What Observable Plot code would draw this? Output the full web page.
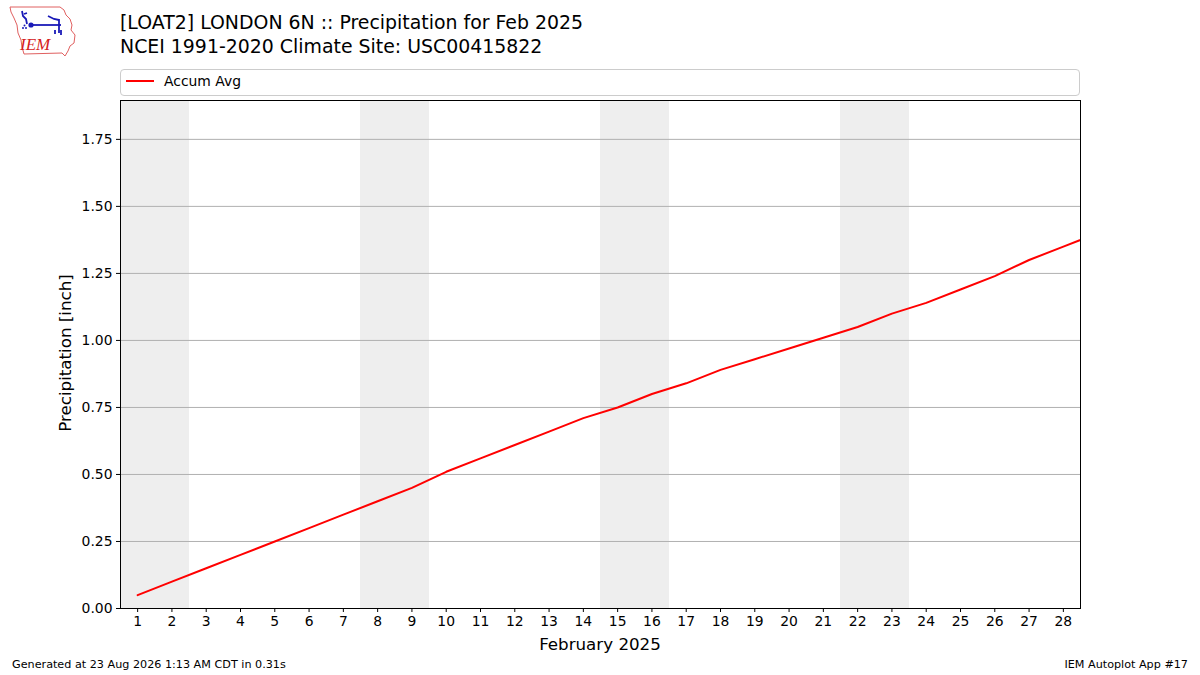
<!DOCTYPE html>
<html>
<head>
<meta charset="utf-8">
<script src="https://cdn.jsdelivr.net/npm/d3@7"></script>
<script src="https://cdn.jsdelivr.net/npm/@observablehq/plot@0.6"></script>
<style>
  html, body { margin: 0; padding: 0; background: #fff; }
  #wrap { position: relative; width: 1200px; height: 675px; font-family: "DejaVu Sans", sans-serif; color: #000; overflow: hidden; }
  .abs { position: absolute; white-space: nowrap; }
</style>
</head>
<body>
<div id="wrap">
  <div id="chart" class="abs" style="left:0;top:0;"></div>
  <svg class="abs" style="left:8px;top:5px;" width="72" height="54" viewBox="0 0 72 54">
    <path d="M2,2 L52,2 L56,5 L58,10 L62,14 L64,20 L63,25 L67,30 L66,38 L62,41 L60,46 L57,51 L54,48 L16,49 L14,42 L13,35 L10,28 L9,20 L6,13 L3,7 Z" fill="#fff" stroke="#e06060" stroke-width="1"/>
    <g stroke="#1a1ab8" stroke-width="1.8" fill="none">
      <path d="M14,6 L15,11 L18,14 L19,19"/>
      <path d="M16,9 L19,8"/>
      <path d="M22,20 L53,20"/>
      <path d="M40,11 L46,14 L51,15"/>
      <path d="M51,14 L51,28 M47,25 L47,29 M53,25 L53,30"/>
    </g>
    <circle cx="23" cy="20" r="2.6" fill="#1a1ab8"/>
    <circle cx="15" cy="23" r="1" fill="#1a1ab8"/>
    <circle cx="18" cy="23" r="1" fill="#1a1ab8"/>
    <circle cx="16.5" cy="20.5" r="1" fill="#1a1ab8"/>
    <text x="12" y="45" font-family="Liberation Serif, serif" font-style="italic" font-size="17" fill="#d42020">IEM</text>
  </svg>
  <div class="abs" style="left:120px;top:11px;font-size:18.9px;line-height:23.5px;">[LOAT2] LONDON 6N :: Precipitation for Feb 2025<br>NCEI 1991-2020 Climate Site: USC00415822</div>
  <div class="abs" style="left:120px;top:69px;width:958px;height:25px;border:1px solid #cccccc;border-radius:4px;box-sizing:content-box;"></div>
  <svg class="abs" style="left:126px;top:77px;" width="30" height="8"><line x1="0" y1="4" x2="28" y2="4" stroke="red" stroke-width="2"/></svg>
  <div id="legtext" class="abs" style="left:164px;top:72px;font-size:13.9px;line-height:18px;"></div>
  <div id="ylab" class="abs" style="left:65px;top:353px;font-size:16.7px;transform:translate(-50%,-50%) rotate(-90deg);"></div>
  <div id="xlab" class="abs" style="left:600px;top:644px;font-size:16.7px;transform:translate(-50%,-50%);"></div>
  <div class="abs" style="left:12px;top:658px;font-size:11.2px;">Generated at 23 Aug 2026 1:13 AM CDT in 0.31s</div>
  <div class="abs" style="right:12px;top:658px;font-size:11.2px;">IEM Autoplot App #17</div>
</div>
<script>
// Data
const days = [1,2,3,4,5,6,7,8,9,10,11,12,13,14,15,16,17,18,19,20,21,22,23,24,25,26,27,28,29];
const accumAvg = [0.05,0.10,0.15,0.20,0.25,0.30,0.35,0.40,0.45,0.51,0.56,0.61,0.66,0.71,0.75,0.80,0.84,0.89,0.93,0.97,1.01,1.05,1.10,1.14,1.19,1.24,1.30,1.35,1.40];
const weekendDays = [1,2,8,9,15,16,22,23];
const xTicks = [1,2,3,4,5,6,7,8,9,10,11,12,13,14,15,16,17,18,19,20,21,22,23,24,25,26,27,28];
const yTicks = [0,0.25,0.5,0.75,1.0,1.25,1.5,1.75];
const xDomain = [0.5, 28.5];
const yDomain = [0, 1.895];
const seriesName = "Accum Avg";
const xLabel = "February 2025";
const yLabel = "Precipitation [inch]";

const rows = days.map((d, i) => ({day: d, value: accumAvg[i]}));

document.getElementById("legtext").textContent = seriesName;
document.getElementById("xlab").textContent = xLabel;
document.getElementById("ylab").textContent = yLabel;

const chart = Plot.plot({
  width: 1200,
  height: 675,
  marginLeft: 120,
  marginRight: 120,
  marginTop: 100,
  marginBottom: 67,
  style: {fontFamily: "DejaVu Sans, sans-serif", fontSize: "13.9px", color: "#000", background: "transparent"},
  x: {domain: xDomain, label: null},
  y: {domain: yDomain, label: null},
  marks: [
    Plot.rect(weekendDays, {x1: d => d - 0.5, x2: d => d + 0.5, fill: "#eeeeee", shapeRendering: "crispEdges"}),
    Plot.gridY(yTicks, {stroke: "#b0b0b0", strokeOpacity: 1, strokeWidth: 1}),
    Plot.line(rows, {x: "day", y: "value", stroke: "red", strokeWidth: 2, clip: true}),
    Plot.frame({stroke: "#000", strokeWidth: 1}),
    Plot.axisX(xTicks, {tickSize: 4, tickPadding: 4, tickFormat: d => String(d), label: null, fontSize: 13.9}),
    Plot.axisY(yTicks, {tickSize: 4, tickPadding: 4, tickFormat: d3.format(".2f"), label: null, fontSize: 13.9})
  ]
});
document.getElementById("chart").appendChild(chart);
</script>
</body>
</html>
